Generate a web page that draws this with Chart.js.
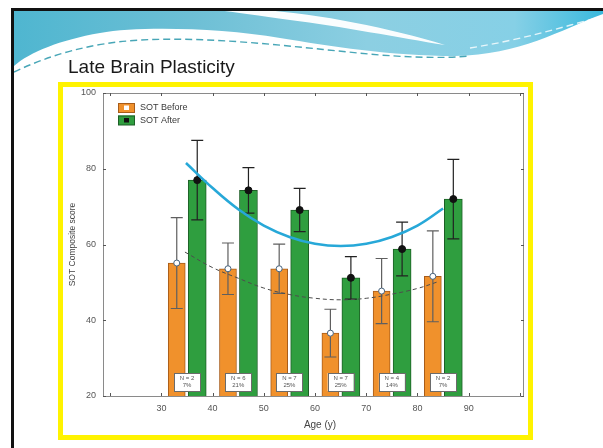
<!DOCTYPE html>
<html>
<head>
<meta charset="utf-8">
<title>Late Brain Plasticity</title>
<style>
  html, body { margin: 0; padding: 0; background: #ffffff; }
  #wrap { width: 603px; height: 448px; position: relative; overflow: hidden; }
  canvas { display: block; }
</style>
<script src="https://cdn.jsdelivr.net/npm/chart.js@4.4.1/dist/chart.umd.min.js"></script>
</head>
<body>
<div id="wrap"><canvas id="c" width="603" height="448"></canvas></div>
<script>
// Age groups (years): bar positions for each series and the group centre
const ageBefore = [33, 43, 53, 63, 73, 83];
const ageAfter  = [37, 47, 57, 67, 77, 87];
const groupAge  = [35, 45, 55, 65, 75, 85];

// SOT composite score, mean and error (+/-) per group
const sotBefore    = [55.1, 53.6, 53.6, 36.6, 47.7, 51.6];
const sotBeforeErr = [12.0, 6.8, 6.5, 6.3, 8.6, 12.0];
const sotAfter     = [77.0, 74.3, 69.1, 51.2, 58.8, 72.0];
const sotAfterErr  = [10.5, 6.0, 5.7, 5.6, 7.1, 10.5];

// Group sizes shown in the boxes at the foot of each pair
const groupN   = [2, 6, 7, 7, 4, 2];
const groupPct = ['7%', '21%', '25%', '25%', '14%', '7%'];

// Trend curves through the after / before scores
const fitAfterAge    = [34.8, 40, 45, 50, 55, 60, 65, 70, 75, 80, 85];
const fitAfterScore  = [81.5, 74.9, 69.3, 65.0, 62.0, 60.2, 59.6, 60.2, 62.0, 65.0, 69.5];
const fitBeforeAge   = [34.6, 40, 45, 50, 55, 60, 65, 70, 75, 80, 84.3];
const fitBeforeScore = [58.0, 53.9, 51.1, 48.5, 46.8, 45.8, 45.4, 45.8, 46.9, 48.4, 50.3];

// Axis ticks
const xTicks      = [20, 30, 40, 50, 60, 70, 80, 90, 100];
const xTickLabels = [30, 40, 50, 60, 70, 80, 90];
const yTicks      = [20, 40, 60, 80, 100];

const FONT = '"Liberation Sans", Arial, Helvetica, sans-serif';

const toPoints = (xs, ys) => xs.map((x, i) => ({ x: x, y: ys[i] }));

// Slide decoration, frame, error bars, legend and labels
const slidePlugin = {
  id: 'slide',
  beforeDraw(chart) {
    const ctx = chart.ctx;
    const W = chart.width, H = chart.height;
    ctx.save();
    ctx.fillStyle = '#ffffff';
    ctx.fillRect(0, 0, W, H);

    // header wave
    const g = ctx.createLinearGradient(14, 0, W, 0);
    g.addColorStop(0, '#4fb6d0');
    g.addColorStop(0.3, '#6dbfd5');
    g.addColorStop(0.6, '#8ccfe2');
    g.addColorStop(0.85, '#86d0e6');
    g.addColorStop(1, '#3ab9dd');
    ctx.fillStyle = g;
    ctx.beginPath();
    ctx.moveTo(14, 10);
    ctx.lineTo(W, 10);
    ctx.lineTo(W, 14);
    ctx.bezierCurveTo(560, 30, 520, 55, 455, 56);
    ctx.bezierCurveTo(390, 56, 330, 46, 280, 38);
    ctx.bezierCurveTo(220, 28, 140, 26, 100, 33);
    ctx.bezierCurveTo(60, 40, 30, 52, 14, 66);
    ctx.closePath();
    ctx.fill();

    // white swoosh across the wave
    ctx.fillStyle = 'rgba(255,255,255,0.96)';
    ctx.beginPath();
    ctx.moveTo(262, 10);
    ctx.bezierCurveTo(320, 14, 390, 28, 445, 45);
    ctx.bezierCurveTo(400, 38, 340, 26, 290, 20);
    ctx.bezierCurveTo(260, 16, 235, 12, 215, 10);
    ctx.closePath();
    ctx.fill();

    // thin dashed accents under the wave
    ctx.setLineDash([7, 4]);
    ctx.lineWidth = 1.4;
    ctx.strokeStyle = 'rgba(40,150,170,0.85)';
    ctx.beginPath();
    ctx.moveTo(14, 72);
    ctx.bezierCurveTo(50, 55, 90, 43, 140, 40);
    ctx.bezierCurveTo(220, 36, 300, 48, 380, 55);
    ctx.bezierCurveTo(420, 58, 450, 58, 470, 56);
    ctx.stroke();
    ctx.strokeStyle = 'rgba(255,255,255,0.8)';
    ctx.beginPath();
    ctx.moveTo(470, 48);
    ctx.bezierCurveTo(520, 40, 560, 28, W, 16);
    ctx.stroke();
    ctx.setLineDash([]);

    // slide border (left and top)
    ctx.fillStyle = '#111111';
    ctx.fillRect(11, 8, W - 11, 3);
    ctx.fillRect(11, 8, 3, H - 8);

    // slide title
    ctx.fillStyle = '#1a1a1a';
    ctx.font = '19px ' + FONT;
    ctx.textAlign = 'left';
    ctx.textBaseline = 'alphabetic';
    ctx.fillText('Late Brain Plasticity', 68, 73);

    // yellow frame around the figure
    ctx.strokeStyle = '#fff300';
    ctx.lineWidth = 5;
    ctx.strokeRect(60.5, 84.5, 470, 353);
    ctx.restore();
  },
  beforeDatasetsDraw(chart) {
    const ctx = chart.ctx;
    const a = chart.chartArea;
    const xs = chart.scales.x, ys = chart.scales.y;
    ctx.save();
    ctx.strokeStyle = '#8a8a8a';
    ctx.lineWidth = 1;
    ctx.strokeRect(a.left + 0.5, a.top + 0.5, a.right - a.left - 1, a.bottom - a.top);
    ctx.strokeStyle = '#555555';
    ctx.beginPath();
    xs.ticks.forEach(t => {
      const px = Math.round(xs.getPixelForValue(t.value)) + 0.5;
      ctx.moveTo(px, a.bottom); ctx.lineTo(px, a.bottom - 3);
      ctx.moveTo(px, a.top); ctx.lineTo(px, a.top + 3);
    });
    ys.ticks.forEach(t => {
      const py = Math.round(ys.getPixelForValue(t.value)) + 0.5;
      ctx.moveTo(a.left, py); ctx.lineTo(a.left + 3, py);
      ctx.moveTo(a.right, py); ctx.lineTo(a.right - 3, py);
    });
    ctx.stroke();
    ctx.restore();
  },
  afterDatasetDraw(chart, args) {
    const ds = chart.data.datasets[args.index];
    if (!ds.errorValues) return;
    const ctx = chart.ctx;
    const xs = chart.scales.x, ys = chart.scales.y;
    ctx.save();
    ds.data.forEach((p, i) => {
      const px = xs.getPixelForValue(p.x);
      const err = ds.errorValues[i];
      const hi = ys.getPixelForValue(p.y + err);
      const lo = ys.getPixelForValue(p.y - err);
      ctx.strokeStyle = ds.whiskerColor;
      ctx.lineWidth = 1.2;
      ctx.beginPath();
      ctx.moveTo(px, hi); ctx.lineTo(px, lo);
      ctx.moveTo(px - 6, hi); ctx.lineTo(px + 6, hi);
      ctx.moveTo(px - 6, lo); ctx.lineTo(px + 6, lo);
      ctx.stroke();
      const py = ys.getPixelForValue(p.y);
      ctx.beginPath();
      ctx.arc(px, py, ds.markerRadius, 0, Math.PI * 2);
      ctx.fillStyle = ds.markerFill;
      ctx.fill();
      ctx.lineWidth = 1;
      ctx.strokeStyle = ds.markerStroke;
      ctx.stroke();
    });
    ctx.restore();
  },
  afterDatasetsDraw(chart) {
    const ctx = chart.ctx;
    const a = chart.chartArea;
    const xs = chart.scales.x;
    ctx.save();

    // group size boxes
    groupAge.forEach((age, i) => {
      const cx = xs.getPixelForValue(age);
      const bw = 26, top = a.bottom - 23, bh = 18;
      ctx.fillStyle = '#ffffff';
      ctx.fillRect(cx - bw / 2, top, bw, bh);
      ctx.strokeStyle = '#6b6b6b';
      ctx.lineWidth = 1;
      ctx.strokeRect(Math.round(cx - bw / 2) + 0.5, top + 0.5, bw, bh);
      ctx.fillStyle = '#555555';
      ctx.font = '6px ' + FONT;
      ctx.textAlign = 'center';
      ctx.textBaseline = 'middle';
      ctx.fillText('N = ' + groupN[i], cx, top + 5.5);
      ctx.fillText(groupPct[i], cx, top + 12.5);
    });

    // legend
    const items = chart.data.datasets.filter(d => d.legendInner);
    items.forEach((d, i) => {
      const x = a.left + 15, y = a.top + 10 + i * 12.5;
      ctx.fillStyle = d.backgroundColor;
      ctx.fillRect(x, y, 17, 9.5);
      ctx.strokeStyle = d.borderColor;
      ctx.lineWidth = 1;
      ctx.strokeRect(x + 0.5, y + 0.5, 16, 9);
      ctx.fillStyle = d.legendInner;
      ctx.fillRect(x + 6, y + 2.5, 5, 4.5);
      ctx.fillStyle = '#3a3a3a';
      ctx.font = '9px ' + FONT;
      ctx.textAlign = 'left';
      ctx.textBaseline = 'middle';
      ctx.fillText(d.label, x + 22, y + 5);
    });

    // axis titles
    ctx.fillStyle = '#444444';
    ctx.font = '10px ' + FONT;
    ctx.textAlign = 'center';
    ctx.textBaseline = 'middle';
    ctx.fillText('Age (y)', 320, 425);
    ctx.translate(73, (a.top + a.bottom) / 2);
    ctx.rotate(-Math.PI / 2);
    ctx.font = '8.5px ' + FONT;
    ctx.fillText('SOT Composite score', 0, 0);
    ctx.restore();
  }
};

new Chart(document.getElementById('c'), {
  type: 'bar',
  data: {
    datasets: [
      {
        type: 'line',
        label: 'Fit after',
        data: toPoints(fitAfterAge, fitAfterScore),
        borderColor: '#27a8d8',
        borderWidth: 2.6,
        pointRadius: 0,
        tension: 0.4,
        fill: false,
        order: 1
      },
      {
        type: 'line',
        label: 'Fit before',
        data: toPoints(fitBeforeAge, fitBeforeScore),
        borderColor: '#4d4d4d',
        borderWidth: 1,
        borderDash: [4, 3],
        pointRadius: 0,
        tension: 0.4,
        fill: false,
        order: 2
      },
      {
        label: 'SOT Before',
        data: toPoints(ageBefore, sotBefore),
        backgroundColor: '#f0912c',
        borderColor: '#a85c1a',
        borderWidth: 1,
        barThickness: 17,
        errorValues: sotBeforeErr,
        whiskerColor: '#5f5f5f',
        markerRadius: 3,
        markerFill: '#ffffff',
        markerStroke: '#48647e',
        legendInner: '#ffffff',
        order: 4
      },
      {
        label: 'SOT After',
        data: toPoints(ageAfter, sotAfter),
        backgroundColor: '#2f9e3f',
        borderColor: '#1d5f26',
        borderWidth: 1,
        barThickness: 18,
        errorValues: sotAfterErr,
        whiskerColor: '#222222',
        markerRadius: 3.5,
        markerFill: '#111111',
        markerStroke: '#111111',
        legendInner: '#111111',
        order: 3
      }
    ]
  },
  options: {
    responsive: false,
    animation: false,
    events: [],
    layout: { padding: { left: 0, top: 93, right: 79, bottom: 0 } },
    datasets: { bar: { grouped: false } },
    plugins: { legend: { display: false }, tooltip: { enabled: false } },
    scales: {
      x: {
        type: 'linear',
        offset: false,
        min: 18.6,
        max: 100.8,
        afterFit(s) { s.height = 52; },
        afterBuildTicks(s) { s.ticks = xTicks.map(v => ({ value: v })); },
        ticks: {
          callback: v => (xTickLabels.includes(v) ? String(v) : ''),
          font: { family: FONT, size: 9 },
          color: '#555555',
          padding: 7,
          maxRotation: 0,
          autoSkip: false
        },
        grid: { display: false, drawTicks: false },
        border: { display: false }
      },
      y: {
        type: 'linear',
        min: 20,
        max: 100,
        afterFit(s) { s.width = 103; },
        afterBuildTicks(s) { s.ticks = yTicks.map(v => ({ value: v })); },
        ticks: {
          font: { family: FONT, size: 9 },
          color: '#555555',
          padding: 7
        },
        grid: { display: false, drawTicks: false },
        border: { display: false }
      }
    }
  },
  plugins: [slidePlugin]
});
</script>
</body>
</html>
